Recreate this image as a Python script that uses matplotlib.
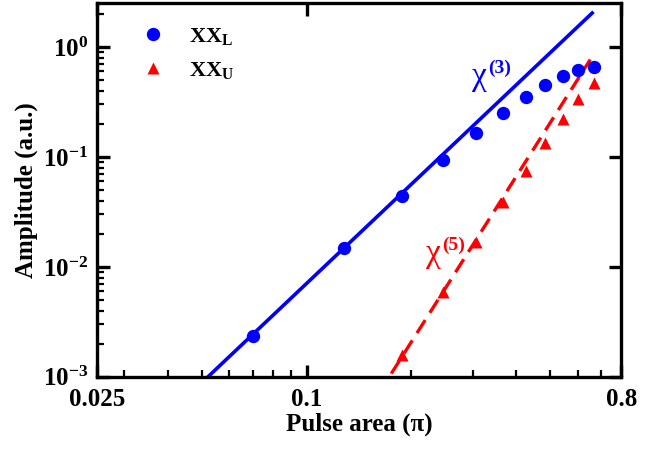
import matplotlib
matplotlib.use("Agg")
import matplotlib.pyplot as plt
import numpy as np

# pulse area (pi) and amplitudes
pulse_L = [0.070, 0.128, 0.188, 0.247, 0.307, 0.367, 0.425, 0.484, 0.544, 0.603, 0.666]
amp_L = [0.00236, 0.0149, 0.0442, 0.094, 0.164, 0.253, 0.353, 0.452, 0.544, 0.618, 0.653]

pulse_U = [0.188, 0.247, 0.307, 0.367, 0.425, 0.484, 0.544, 0.603, 0.666]
amp_U = [0.00157, 0.0059, 0.0169, 0.0385, 0.075, 0.133, 0.220, 0.335, 0.468]

# power-law fits: chi(3) ~ x^3, chi(5) ~ x^5
fit3_range = [0.050, 0.666]
fit3_coef = 7.07
fit5_range = [0.175, 0.652]
fit5_coef = 6.52

xtick_vals = [0.025, 0.1, 0.8]
xtick_labels = ['0.025', '0.1', '0.8']
ytick_vals = [1e-3, 1e-2, 1e-1, 1e0]
ytick_labels = [r'$\mathbf{10^{-3}}$', r'$\mathbf{10^{-2}}$', r'$\mathbf{10^{-1}}$', r'$\mathbf{10^{0}}$']

plt.rcParams['font.family'] = ['Liberation Serif', 'DejaVu Serif']
plt.rcParams['font.weight'] = 'bold'
plt.rcParams['mathtext.fontset'] = 'custom'
plt.rcParams['mathtext.rm'] = 'Liberation Serif'
plt.rcParams['mathtext.it'] = 'Liberation Serif:italic'
plt.rcParams['mathtext.bf'] = 'Liberation Serif:bold'

fig = plt.figure(figsize=(6.68, 4.54), dpi=100)
ax = fig.add_axes([0.145, 0.170, 0.785, 0.823])

# fit lines
x3 = np.geomspace(fit3_range[0], fit3_range[1], 50)
ax.plot(x3, fit3_coef * x3**3, color='#0000ff', lw=2.6, solid_capstyle='butt')
x5 = np.geomspace(fit5_range[0], fit5_range[1], 50)
ax.plot(x5, fit5_coef * x5**5, color='#ff0000', lw=2.4, dashes=(4.6, 2.6))

# data
ax.plot(pulse_L, amp_L, 'o', color='#0000ff', ms=9.6, mec='none', label=r'$\mathbf{XX}_\mathrm{L}$')
ax.plot(pulse_U, amp_U, '^', color='#ff0000', ms=9.0, mec='none', label=r'$\mathbf{XX}_\mathrm{U}$')

ax.set_xscale('log')
ax.set_yscale('log')
ax.set_xlim(0.025, 0.8)
ax.set_ylim(1e-3, 2.5)

ax.set_xticks(xtick_vals)
ax.set_xticklabels(xtick_labels)
ax.set_xticks([0.03, 0.04, 0.05, 0.06, 0.07, 0.08, 0.09, 0.2, 0.3, 0.4, 0.5, 0.6, 0.7], minor=True)
ax.xaxis.set_minor_formatter(matplotlib.ticker.NullFormatter())
ax.set_yticks(ytick_vals)
ax.set_yticklabels(ytick_labels)
ax.yaxis.set_minor_locator(matplotlib.ticker.LogLocator(base=10, subs=np.arange(2, 10)))
ax.yaxis.set_minor_formatter(matplotlib.ticker.NullFormatter())

ax.tick_params(which='major', direction='in', length=9, width=2.4, top=True, right=True, labelsize=18)
ax.tick_params(axis='x', which='major', pad=8)
ax.tick_params(axis='y', which='major', pad=6)
ax.tick_params(which='minor', direction='in', length=5, width=1.6, top=False, right=False)
for sp in ax.spines.values():
    sp.set_linewidth(2.4)

ax.set_xlabel('Pulse area (\u03c0)', fontsize=18, fontweight='bold', labelpad=1)
ax.set_ylabel('Amplitude (a.u.)', fontsize=18, fontweight='bold', labelpad=4)

# chi labels: serif chi plus bold superscript
for (xt, yt, sup, col) in [(0.298, 0.45, '(3)', '#0000ff'), (0.220, 0.0111, '(5)', '#ff0000')]:
    ax.annotate('\u03c7', xy=(xt, yt), xycoords='data', color=col, fontsize=24,
                fontweight='normal', ha='left', va='baseline')
    ax.annotate(sup, xy=(xt, yt), xycoords='data', xytext=(11.5, 8.5), textcoords='offset points',
                color=col, fontsize=14, fontweight='bold', ha='left', va='baseline')

ax.legend(loc='upper left', bbox_to_anchor=(0.04, 0.975), frameon=False, fontsize=16,
          handletextpad=0.6, labelspacing=0.6, borderaxespad=0.2)

fig.savefig('out.png', dpi=100)
